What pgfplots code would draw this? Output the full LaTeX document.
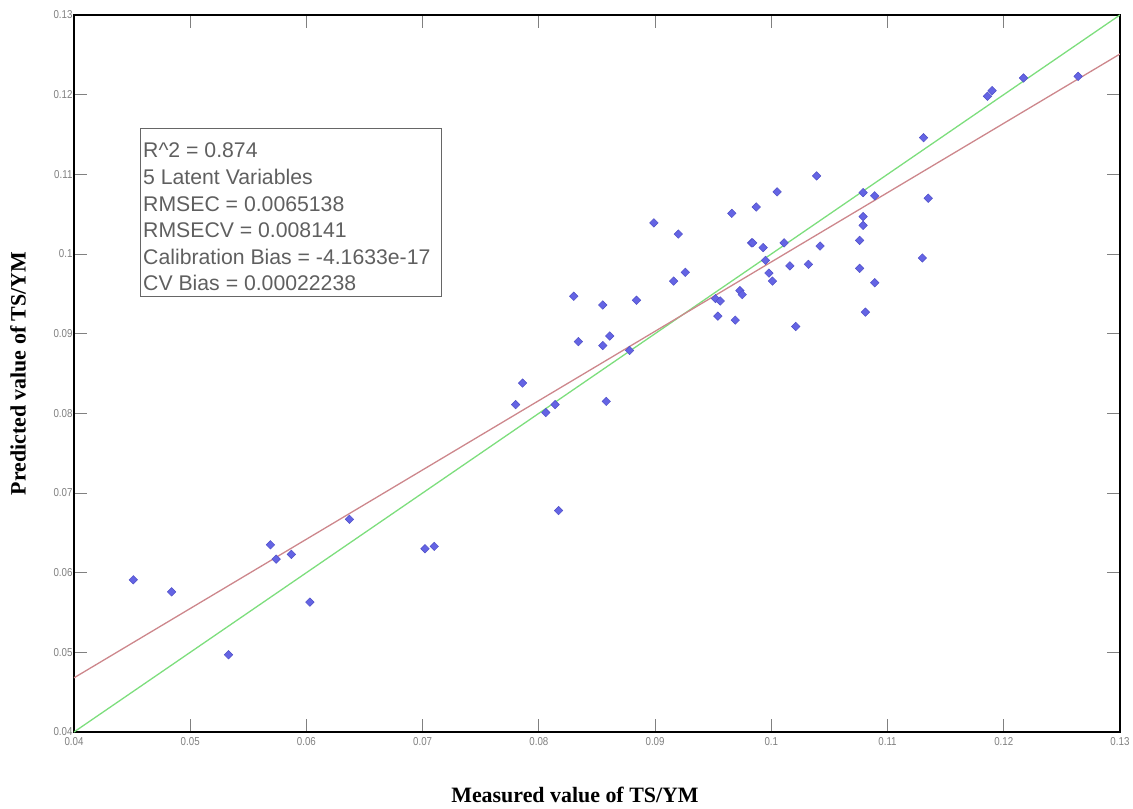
\documentclass[border=0pt]{standalone}
\usepackage{fontspec}
\setmainfont{Liberation Sans}
\newfontfamily\timesfont{Liberation Serif}
\newfontfamily\ticknarrow[FakeStretch=0.85]{Liberation Sans}
\usepackage{pgfplots}
\pgfplotsset{compat=1.18}
\definecolor{ptblue}{RGB}{100,100,228}
\definecolor{ptedge}{RGB}{80,80,200}
\definecolor{fitgreen}{RGB}{125,222,125}
\definecolor{fitred}{RGB}{205,135,140}
\definecolor{txtgray}{RGB}{95,95,95}
\begin{document}
\begin{tikzpicture}
\begin{axis}[
  scale only axis, width=1046bp, height=717bp,
  xmin=0.04, xmax=0.13, ymin=0.04, ymax=0.13,
  xtick={0.04,0.05,0.06,0.07,0.08,0.09,0.1,0.11,0.12,0.13},
  ytick={0.04,0.05,0.06,0.07,0.08,0.09,0.1,0.11,0.12,0.13},
  scaled ticks=false,
  /pgf/number format/fixed, /pgf/number format/precision=2,
  /pgf/number format/assume math mode=true,
  tick align=inside,
  major tick length=13bp,
  tick style={gray, line width=0.9bp},
  axis line style={black, line width=2.5bp},
  ticklabel style={font=\ticknarrow\fontsize{11.5}{13}\selectfont, text=gray},
  xticklabel style={yshift=-2bp},
  yticklabel style={xshift=2bp},
  xlabel={\timesfont\bfseries Measured value of TS/YM},
  ylabel={\timesfont\bfseries Predicted value of TS/YM},
  xlabel style={font=\fontsize{22}{26}\selectfont, at={(axis description cs:0.479,0)}, anchor=base, yshift=-70bp},
  ylabel style={font=\fontsize{22}{26}\selectfont, at={(axis description cs:-0.0535,0.5)}, anchor=center},
]
\addplot[only marks, mark=square*, mark size=3bp, mark options={rotate=45, fill=ptblue, draw=ptedge, line width=0.5bp}] coordinates {
(0.0451,0.0591) (0.0484,0.0576) (0.0533,0.0497) (0.0569,0.0635) (0.0574,0.0617)
(0.0587,0.0623) (0.0603,0.0563) (0.0637,0.0667) (0.0702,0.0630) (0.0710,0.0633)
(0.0817,0.0678) (0.0780,0.0811) (0.0786,0.0838) (0.0806,0.0801) (0.0814,0.0811)
(0.0858,0.0815) (0.0830,0.0947) (0.0834,0.0890) (0.0855,0.0936) (0.0855,0.0885)
(0.0861,0.0897) (0.0878,0.0879) (0.0884,0.0942) (0.0899,0.1039) (0.0916,0.0966)
(0.0920,0.1025) (0.0926,0.0977) (0.0952,0.0944) (0.0956,0.0941) (0.0954,0.0922)
(0.0969,0.0917) (0.0966,0.1051) (0.0973,0.0954) (0.0975,0.0949) (0.0987,0.1059)
(0.0983,0.1014) (0.0984,0.1014) (0.0993,0.1008) (0.0995,0.0992) (0.0998,0.0976)
(0.1001,0.0966) (0.1005,0.1078) (0.1011,0.1014) (0.1016,0.0985) (0.1021,0.0909)
(0.1032,0.0987) (0.1039,0.1098) (0.1042,0.1010) (0.1076,0.1017) (0.1076,0.0982)
(0.1079,0.1077) (0.1079,0.1047) (0.1079,0.1036) (0.1081,0.0927) (0.1089,0.1073)
(0.1089,0.0964) (0.1130,0.0995) (0.1131,0.1146) (0.1135,0.1070) (0.1186,0.1198)
(0.1190,0.1205) (0.1217,0.1221) (0.1264,0.1223)
};
\addplot[fitgreen, line width=1.3bp] coordinates {(0.04,0.04) (0.13,0.13)};
\addplot[fitred, line width=1.3bp] coordinates {(0.04,0.0468) (0.13,0.1251)};
\node[draw=gray!80!black, line width=1.2bp, anchor=north west, minimum width=301bp, minimum height=168bp, inner sep=0pt] at (rel axis cs:0.0631,0.8424) {};
\node[anchor=north west, align=left, inner sep=0pt, text=txtgray, font=\fontsize{21.3}{26.7}\selectfont] at (rel axis cs:0.066,0.8215) {R\char`\^2 = 0.874\\5 Latent Variables\\RMSEC = 0.0065138\\RMSECV = 0.008141\\Calibration Bias = -4.1633e-17\\CV Bias = 0.00022238};
\end{axis}
\pgfresetboundingbox
\path (-74bp,-77bp) rectangle (1059bp,732bp);
\end{tikzpicture}
\end{document}
